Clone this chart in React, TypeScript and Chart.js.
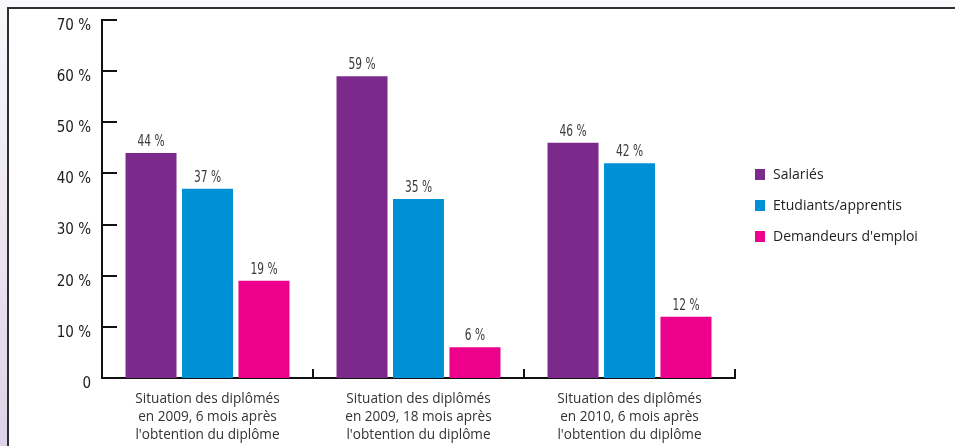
import React, { useEffect, useRef } from "react";
import { Chart, registerables } from "chart.js";

Chart.register(...registerables);

const categories: string[][] = [
  ["Situation des diplômés", "en 2009, 6 mois après", "l'obtention du diplôme"],
  ["Situation des diplômés", "en 2009, 18 mois après", "l'obtention du diplôme"],
  ["Situation des diplômés", "en 2010, 6 mois après", "l'obtention du diplôme"],
];
const seriesNames = ["Salariés", "Etudiants/apprentis", "Demandeurs d'emploi"];
const salaries = [44, 59, 46];
const etudiants = [37, 35, 42];
const demandeurs = [19, 6, 12];
const seriesColors = ["#7B2A8C", "#0090D6", "#EC008C"];
const yMin = 0;
const yMax = 70;
const yStep = 10;

const FONT = "'Open Sans', 'DejaVu Sans', sans-serif";
const TICKFONT = "'DejaVu Sans Condensed', 'DejaVu Sans', sans-serif";
const NARROW = "'Liberation Sans Narrow', 'DejaVu Sans Condensed', sans-serif";

const decorPlugin = {
  id: "decor",
  afterDatasetsDraw(chart: any) {
    const ctx = chart.ctx as CanvasRenderingContext2D;
    const area = chart.chartArea;
    const ys = chart.scales.y;
    const xs = chart.scales.x;
    ctx.save();
    // inward y ticks
    ctx.strokeStyle = "#111";
    ctx.lineWidth = 2;
    ys.ticks.forEach((t: any) => {
      if (t.value === yMin) return;
      const py = Math.round(ys.getPixelForValue(t.value));
      ctx.beginPath();
      ctx.moveTo(area.left, py);
      ctx.lineTo(area.left + 15, py);
      ctx.stroke();
    });
    // category separators (upward)
    const n = xs.ticks.length;
    const w = (xs.right - xs.left) / n;
    for (let i = 1; i <= n; i++) {
      const px = Math.round(xs.left + i * w);
      ctx.beginPath();
      ctx.moveTo(px, area.bottom + 1);
      ctx.lineTo(px, area.bottom - 9);
      ctx.stroke();
    }
    // data labels
    ctx.font = "16px " + NARROW;
    ctx.fillStyle = "#3a3a3a";
    ctx.textAlign = "center";
    ctx.textBaseline = "alphabetic";
    chart.data.datasets.forEach((ds: any, di: number) => {
      const meta = chart.getDatasetMeta(di);
      meta.data.forEach((bar: any, i: number) => {
        ctx.save();
        ctx.translate(bar.x, bar.y - 7);
        ctx.scale(0.74, 1);
        ctx.fillText(ds.data[i] + " %", 0, 0);
        ctx.restore();
      });
    });
    // legend
    const lx = area.right + 20;
    const ly0 = 174;
    const gap = 31;
    ctx.font = "14px " + FONT;
    ctx.textAlign = "left";
    ctx.textBaseline = "middle";
    chart.data.datasets.forEach((ds: any, di: number) => {
      const cy = ly0 + di * gap;
      ctx.fillStyle = ds.backgroundColor;
      ctx.fillRect(lx, cy - 5, 10, 11);
      ctx.fillStyle = "#222";
      ctx.fillText(ds.label, lx + 18, cy + 1);
    });
    ctx.restore();
  },
};

export default function App() {
  const ref = useRef<HTMLCanvasElement | null>(null);
  useEffect(() => {
    if (!ref.current) return;
    const chart = new Chart(ref.current, {
      type: "bar",
      data: {
        labels: categories,
        datasets: [
          { label: seriesNames[0], data: salaries, backgroundColor: seriesColors[0] },
          { label: seriesNames[1], data: etudiants, backgroundColor: seriesColors[1] },
          { label: seriesNames[2], data: demandeurs, backgroundColor: seriesColors[2] },
        ],
      },
      options: {
        responsive: false,
        animation: false,
        devicePixelRatio: 1,
        layout: { padding: { left: 0, right: 220, top: 19, bottom: 0 } },
        datasets: { bar: { categoryPercentage: 0.803, barPercentage: 0.903 } },
        plugins: { legend: { display: false }, tooltip: { enabled: false } },
        scales: {
          x: {
            grid: { display: false, drawTicks: false },
            border: { display: true, color: "#111", width: 2 },
            ticks: {
              padding: 12,
              color: "#333",
              font: { family: FONT, size: 13.6, lineHeight: "18px" },
              maxRotation: 0,
              autoSkip: false,
            },
            afterFit: (s: any) => {
              s.height = 68;
            },
          },
          y: {
            min: yMin,
            max: yMax,
            grid: { display: false, drawTicks: false },
            border: { display: true, color: "#111", width: 2 },
            ticks: {
              stepSize: yStep,
              padding: 11,
              labelOffset: 6,
              color: "#1a1a1a",
              font: { family: TICKFONT, size: 15 },
              callback: (v: any) => (v === 0 ? "0" : v + " %"),
            },
            afterFit: (s: any) => {
              s.width = 102;
            },
          },
        },
      },
      plugins: [decorPlugin],
    } as any);
    return () => chart.destroy();
  }, []);

  return (
    <div
      style={{
        position: "fixed",
        left: 0,
        top: 0,
        width: 955,
        height: 446,
        overflow: "hidden",
        background: "linear-gradient(to bottom, #f9f8fa 0%, #ece6f1 50%, #ddd2e8 100%)",
      }}
    >
      <div
        style={{
          position: "absolute",
          left: 7,
          top: 7,
          right: -10,
          bottom: -10,
          background: "#fff",
          borderTop: "2px solid #2e2e2e",
          borderLeft: "2px solid #2e2e2e",
        }}
      />
      <canvas
        ref={ref}
        width={955}
        height={446}
        style={{ position: "absolute", left: 0, top: 0, width: 955, height: 446 }}
      />
    </div>
  );
}
